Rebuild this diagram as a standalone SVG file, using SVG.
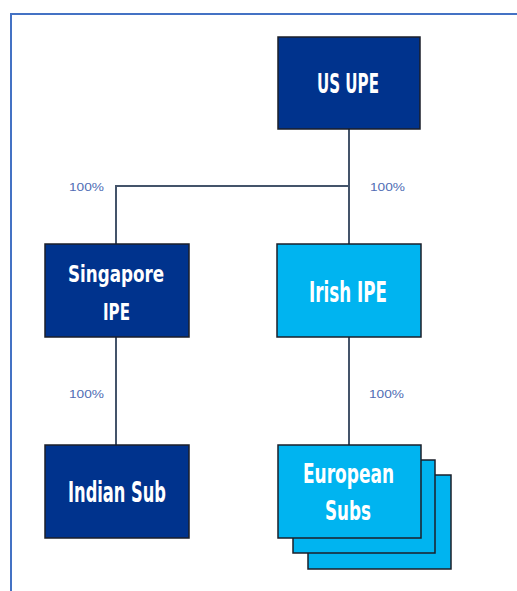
<svg xmlns="http://www.w3.org/2000/svg" width="517" height="591" viewBox="0 0 517 591">
<style>
.frame{fill:none;stroke:#4472C4;stroke-width:2}
.box{stroke:#1b1f2a;stroke-width:1.5}
.dark{fill:#00338D}
.light{fill:#00B4F0}
.lbl{font-family:"DejaVu Sans","Liberation Sans",sans-serif;font-stretch:condensed;font-weight:bold;fill:#ffffff;text-anchor:middle}
.pct{font-family:"Liberation Sans","DejaVu Sans",sans-serif;font-size:11px;fill:#4F6DB5}
.conn{fill:none;stroke:#44546A;stroke-width:2}
</style>
<rect width="517" height="591" fill="#ffffff"/>
<polyline class="frame" points="11,591 11,14 517,14"/>
<g id="connectors">
<line class="conn" x1="349" y1="129" x2="349" y2="244"/>
<polyline class="conn" points="349,186 116,186 116,244"/>
<line class="conn" x1="116" y1="337" x2="116" y2="445"/>
<line class="conn" x1="349" y1="337" x2="349" y2="445"/>
</g>
<g id="labels">
<text class="pct" x="69" y="191" textLength="35" lengthAdjust="spacingAndGlyphs">100%</text>
<text class="pct" x="370" y="191" textLength="35" lengthAdjust="spacingAndGlyphs">100%</text>
<text class="pct" x="69" y="398" textLength="35" lengthAdjust="spacingAndGlyphs">100%</text>
<text class="pct" x="369" y="398" textLength="35" lengthAdjust="spacingAndGlyphs">100%</text>
</g>
<g id="us-upe">
<rect class="box dark" x="278" y="37" width="142" height="92"/>
<text class="lbl" x="348" y="93" font-size="27" textLength="62" lengthAdjust="spacingAndGlyphs">US UPE</text>
</g>
<g id="singapore-ipe">
<rect class="box dark" x="45" y="244" width="144" height="93"/>
<text class="lbl" x="116" y="282" font-size="23" textLength="96" lengthAdjust="spacingAndGlyphs">Singapore</text>
<text class="lbl" x="116.5" y="320" font-size="23" textLength="27" lengthAdjust="spacingAndGlyphs">IPE</text>
</g>
<g id="irish-ipe">
<rect class="box light" x="277" y="244" width="144" height="93"/>
<text class="lbl" x="348" y="302" font-size="29" textLength="78" lengthAdjust="spacingAndGlyphs">Irish IPE</text>
</g>
<g id="indian-sub">
<rect class="box dark" x="45" y="445" width="144" height="93"/>
<text class="lbl" x="117" y="502" font-size="29" textLength="98" lengthAdjust="spacingAndGlyphs">Indian Sub</text>
</g>
<g id="european-subs">
<rect class="box light" x="308" y="475" width="143" height="94"/>
<rect class="box light" x="293" y="460" width="142" height="93"/>
<rect class="box light" x="278" y="445" width="143" height="93"/>
<text class="lbl" x="348.5" y="483" font-size="26" textLength="91" lengthAdjust="spacingAndGlyphs">European</text>
<text class="lbl" x="348" y="520" font-size="26" textLength="46" lengthAdjust="spacingAndGlyphs">Subs</text>
</g>
</svg>
